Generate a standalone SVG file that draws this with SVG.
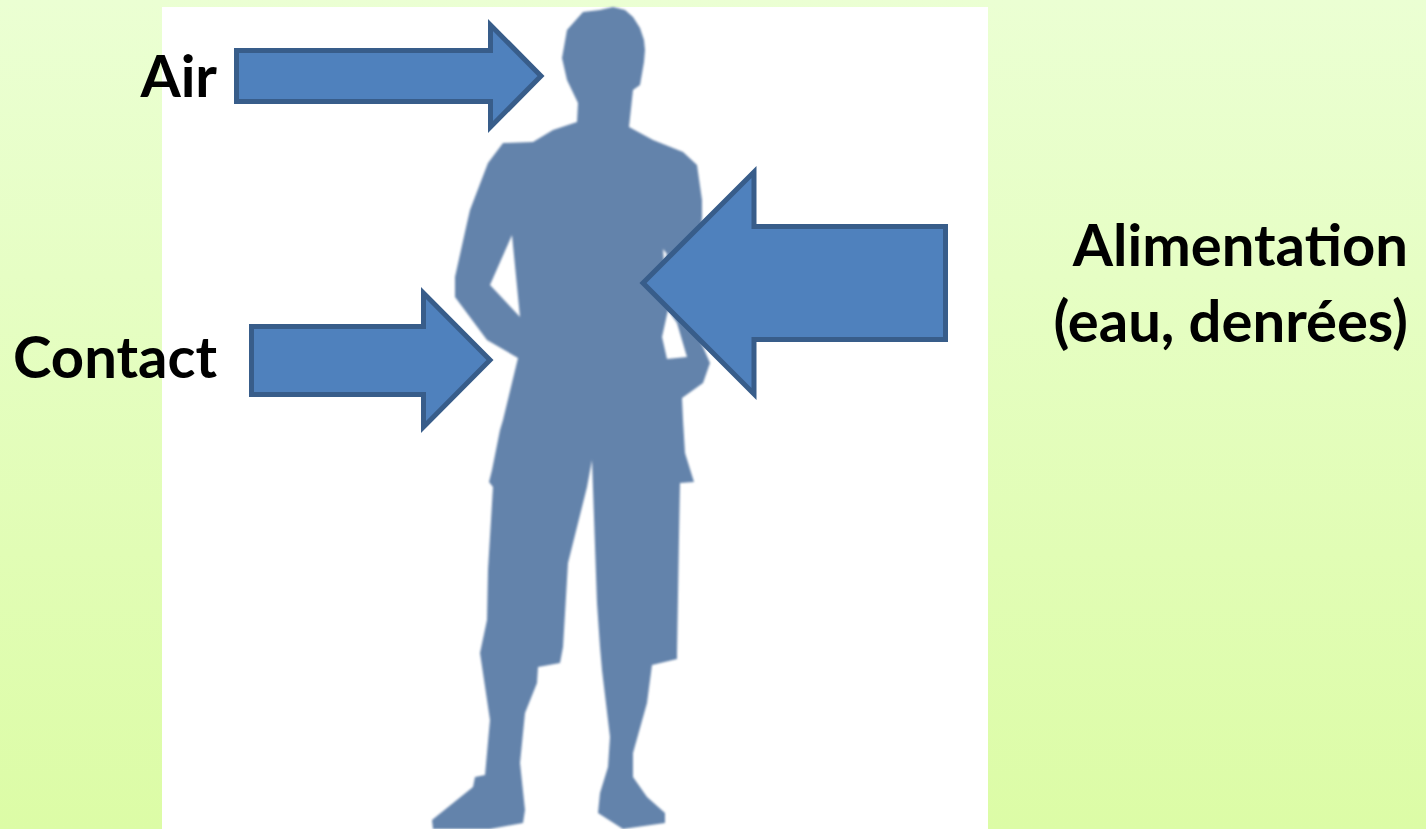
<svg xmlns="http://www.w3.org/2000/svg" width="1426" height="829" viewBox="0 0 1426 829">
<style>
.arrow{fill:#4f81bd;stroke:#385d8a;stroke-width:5;stroke-linejoin:miter;stroke-miterlimit:10}
.label{font-family:"Lato","Carlito","Open Sans",sans-serif;font-weight:700;font-size:58px;fill:#000;text-anchor:end}
</style>
<defs>
<linearGradient id="bg" x1="0" y1="0" x2="0" y2="1"><stop offset="0" stop-color="#ebffd3"/><stop offset="1" stop-color="#dcfca6"/></linearGradient>
<filter id="soft" x="-5%" y="-5%" width="110%" height="110%"><feGaussianBlur stdDeviation="0.9"/></filter>
</defs>
<rect width="1426" height="829" fill="url(#bg)"/>
<rect id="photo" x="162" y="7" width="826" height="822" fill="#fff"/>
<path id="silhouette" filter="url(#soft)" fill="#6483ab" fill-rule="evenodd" d="M613 7 L625 10 L633 17 L640 28 L644 40 L645 50 L644 62 L640 85 L633 90 L629 127 L653 140 L683 152 L697 165 L702 200 L702 217 L700 240 L690 320 L700 340 L710 363 L703 383 L682 398 L683 420 L685 453 L694 482 L680 483 L679 537 L677 653 L677 659 L652 665 L647 703 L633 753 L633 777 L647 797 L665 813 L665 823 L623 829 L598 813 L600 793 L608 767 L610 737 L602 670 L600 647 L597 603 L592 460 L587 487 L568 563 L563 647 L560 663 L538 667 L537 683 L525 713 L520 763 L525 810 L523 823 L490 829 L433 829 L432 820 L473 787 L475 777 L485 775 L490 720 L480 653 L487 620 L488 570 L493 487 L489 482 L492 470 L500 430 L503 420 L518 358 L487 340 L455 297 L455 277 L467 223 L470 210 L488 163 L503 143 L533 142 L553 130 L577 122 L578 103 L567 80 L562 58 L567 30 L583 12 L600 10 Z M512 235 L490 285 L520 317 Z M662 337 L667 359 L687 357 L677 323 L668 310 Z M663 249 L667 254 L664 262 Z"/>
<g id="connectors">
<path id="arrow-air" class="arrow" d="M236.500 50.500H490.500V25L541 76L490.500 127V101.500H236.500Z"/>
<path id="arrow-contact" class="arrow" d="M251.500 326.500H423.500V293L490 360L423.500 427V394.500H251.500Z"/>
<path id="arrow-alimentation" class="arrow" d="M945.500 226.500H754V172L643 283L754 394V339.500H945.500Z"/>
</g>
<g id="node-air"><text class="label" x="217" y="97">Air</text></g>
<g id="node-contact"><text class="label" x="217" y="378">Contact</text></g>
<g id="node-alimentation"><text class="label" x="1408" y="266">Alimentation</text><text class="label" x="1408" y="342">(eau, denrées)</text></g>
</svg>
